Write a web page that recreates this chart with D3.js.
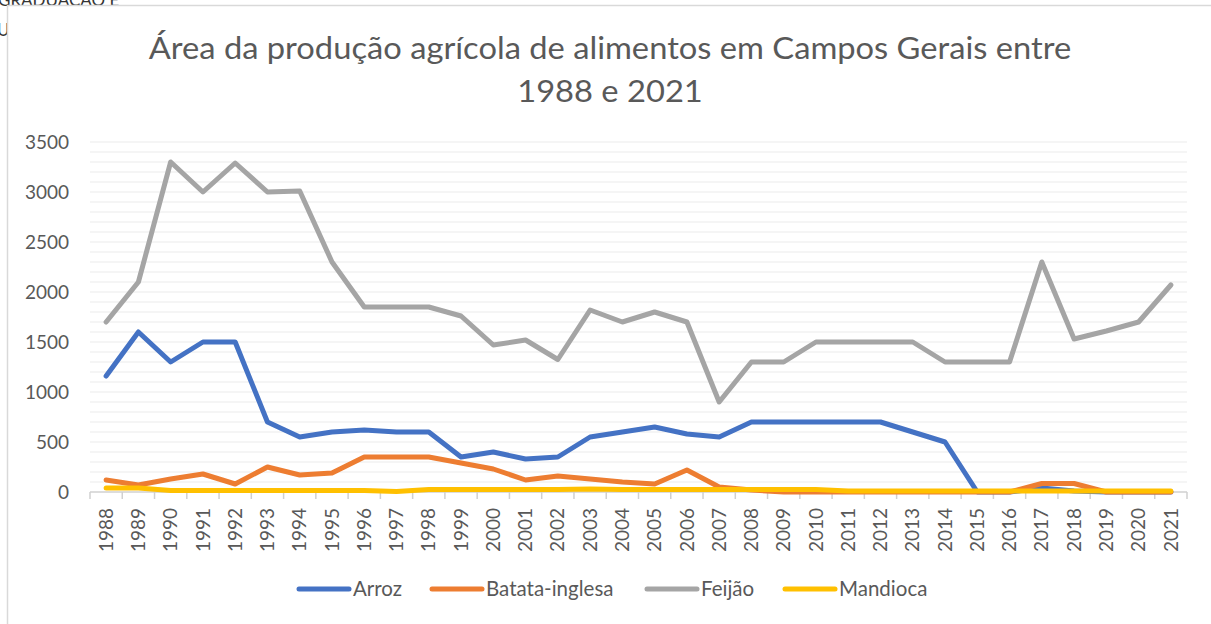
<!DOCTYPE html>
<html>
<head>
<meta charset="utf-8">
<script src="https://cdn.jsdelivr.net/npm/d3@7"></script>
<style>
  body { margin:0; background:#fff; }
  svg { display:block; }
</style>
</head>
<body>
<svg id="chart" width="1211" height="624"></svg>
<script>
var years=d3.range(1988,2022).map(String)
var seriesNames=['Arroz','Batata-inglesa','Feijão','Mandioca']
var arroz=[1160,1600,1300,1500,1500,700,550,600,620,600,600,350,400,330,350,550,600,650,580,550,700,700,700,700,700,600,500,0,0,40,10,0,0,0]
var batata=[120,70,130,180,80,250,170,190,350,350,350,290,230,120,160,130,100,80,220,50,20,0,0,0,0,0,0,0,0,85,85,0,0,0]
var feijao=[1700,2100,3300,3000,3290,3000,3010,2300,1850,1850,1850,1760,1470,1520,1325,1820,1700,1800,1700,900,1300,1300,1500,1500,1500,1500,1300,1300,1300,2300,1530,1610,1700,2070]
var mandioca=[40,40,15,15,15,15,15,15,15,5,25,25,25,25,25,30,25,25,25,25,25,25,25,10,10,10,10,10,10,10,10,10,10,10]
var yTicks=[0,500,1000,1500,2000,2500,3000,3500]
var colors=['#4472C4','#ED7D31','#A5A5A5','#FFC000']
var titleLines=['Área da produção agrícola de alimentos em Campos Gerais entre','1988 e 2021']

display()

function display()
{
    var svg=d3.select('#chart')
    var font='Lato, "Open Sans", sans-serif'
    // bits of the document behind the chart
    svg.append('text').attr('x',-2).attr('y',6).attr('font-family',font).attr('font-size',17).attr('fill','#333').text('GRADUAÇÃO E')
    svg.append('text').attr('x',-3).attr('y',36).attr('font-family',font).attr('font-size',17).attr('fill','#333').text('U')
    svg.append('rect').attr('x',7.5).attr('y',5.5).attr('width',1220).attr('height',640)
        .attr('fill','#fff').attr('stroke','#D9D9D9').attr('stroke-width',1.5)

    let margin={left:90,right:24,top:142,bottom:132}
    let w=1211-margin.left-margin.right
    let h=624-margin.top-margin.bottom
    var g=svg.append('g').attr('transform',`translate(${margin.left},${margin.top})`)

    var x=d3.scaleBand().domain(years).range([0,w])
    var y=d3.scaleLinear().domain([0,3500]).range([h,0])

    // title (slightly stretched like the reference)
    svg.append('g').attr('transform','translate(610,0) scale(1.09,1)')
        .append('text').attr('text-anchor','middle')
        .attr('font-family',font).attr('font-size',30).attr('fill','#595959')
        .selectAll('tspan').data(titleLines).join('tspan')
        .attr('x',0).attr('y',(d,i)=>59+i*43).text(d=>d)

    // gridlines every 100
    g.append('g').selectAll('line').data(d3.range(100,3501,100)).join('line')
        .attr('x1',0).attr('x2',w).attr('y1',d=>y(d)).attr('y2',d=>y(d))
        .attr('stroke','#EBEBEB').attr('stroke-width',1.2)

    // y axis labels
    g.append('g').selectAll('text').data(yTicks).join('text')
        .attr('x',-21).attr('y',d=>y(d)).attr('dy','0.35em').attr('text-anchor','end')
        .attr('font-family',font).attr('font-size',19).attr('fill','#595959').text(d=>d)

    // x axis
    var xAxis=g.append('g').attr('transform',`translate(0,${h})`)
    xAxis.append('line').attr('x1',0).attr('x2',w).attr('stroke','#D0D0D0').attr('stroke-width',1.5)
    xAxis.selectAll('.tick').data(years.concat(['end'])).join('line')
        .attr('x1',(d,i)=>i*x.step()).attr('x2',(d,i)=>i*x.step())
        .attr('y1',0).attr('y2',7).attr('stroke','#D0D0D0').attr('stroke-width',1.5)
    xAxis.selectAll('text').data(years).join('text')
        .attr('transform',d=>`translate(${x(d)+x.bandwidth()/2},${16}) rotate(-90)`)
        .attr('text-anchor','end').attr('dy','0.35em')
        .attr('font-family',font).attr('font-size',19).attr('fill','#595959').text(d=>d)

    // lines
    var lineGen=d3.line().x((d,i)=>x(years[i])+x.bandwidth()/2).y(d=>y(d))
    var data=[arroz,batata,feijao,mandioca]
    g.append('g').selectAll('path').data(data).join('path')
        .attr('d',lineGen).attr('fill','none')
        .attr('stroke',(d,i)=>colors[i]).attr('stroke-width',5)
        .attr('stroke-linejoin','round').attr('stroke-linecap','round')

    // legend
    var legX=[297,430,645,783]
    var leg=svg.append('g').selectAll('g').data(seriesNames).join('g')
        .attr('transform',(d,i)=>`translate(${legX[i]},589)`)
    leg.append('line').attr('x1',2).attr('x2',52).attr('stroke',(d,i)=>colors[i])
        .attr('stroke-width',5).attr('stroke-linecap','round')
    leg.append('text').attr('x',56).attr('dy','0.35em')
        .attr('font-family',font).attr('font-size',20.5).attr('fill','#595959').text(d=>d)
}
</script>
</body>
</html>
